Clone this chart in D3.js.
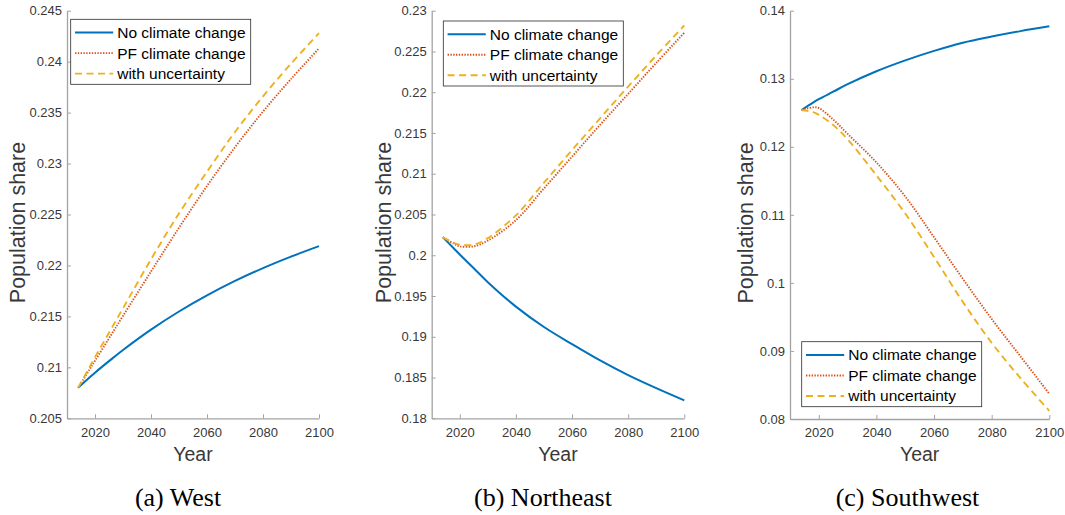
<!DOCTYPE html>
<html>
<head>
<meta charset="utf-8">
<script src="https://cdn.jsdelivr.net/npm/d3@7"></script>
<style>
  html, body { margin: 0; padding: 0; background: #fff; }
  svg { display: block; }
  text { font-family: "Liberation Sans", Arial, Helvetica, sans-serif; }
</style>
</head>
<body>
<svg id="chart" width="1065" height="515"></svg>
<script>
// Years at which each scenario is sampled
const years = [2014, 2018, 2020, 2025, 2030, 2040, 2050, 2060, 2070, 2080, 2090, 2100];

const seriesNames = ["No climate change", "PF climate change", "with uncertainty"];

// West
const westNoChange   = [0.20800, 0.20900, 0.20948, 0.21061, 0.21170, 0.21370, 0.21548, 0.21706, 0.21848, 0.21974, 0.22087, 0.22190];
const westPF         = [0.20800, 0.20977, 0.21065, 0.21285, 0.21505, 0.21940, 0.22370, 0.22780, 0.23160, 0.23510, 0.23830, 0.24130];
const westUncertain  = [0.20800, 0.21000, 0.21100, 0.21340, 0.21580, 0.22060, 0.22510, 0.22920, 0.23310, 0.23660, 0.23980, 0.24280];

// Northeast
const neNoChange     = [0.20220, 0.20080, 0.20010, 0.19840, 0.19670, 0.19370, 0.19120, 0.18910, 0.18710, 0.18530, 0.18370, 0.18220];
const nePF           = [0.20220, 0.20140, 0.20110, 0.20110, 0.20180, 0.20430, 0.20820, 0.21210, 0.21600, 0.21980, 0.22360, 0.22730];
const neUncertain    = [0.20220, 0.20150, 0.20130, 0.20130, 0.20210, 0.20490, 0.20890, 0.21290, 0.21680, 0.22070, 0.22450, 0.22820];

// Southwest
const swNoChange     = [0.12540, 0.12650, 0.12700, 0.12810, 0.12920, 0.13110, 0.13270, 0.13410, 0.13530, 0.13620, 0.13700, 0.13770];
const swPF           = [0.12540, 0.12580, 0.12570, 0.12400, 0.12190, 0.11770, 0.11270, 0.10670, 0.10060, 0.09470, 0.08920, 0.08370];
const swUncertain    = [0.12540, 0.12510, 0.12470, 0.12320, 0.12110, 0.11580, 0.11020, 0.10380, 0.09720, 0.09120, 0.08600, 0.08120];

// Axis ticks and labels
const xTicks = [2020, 2040, 2060, 2080, 2100];
const westTicks = [0.205, 0.21, 0.215, 0.22, 0.225, 0.23, 0.235, 0.24, 0.245];
const westTickLabels = ["0.205", "0.21", "0.215", "0.22", "0.225", "0.23", "0.235", "0.24", "0.245"];
const neTicks = [0.18, 0.185, 0.19, 0.195, 0.2, 0.205, 0.21, 0.215, 0.22, 0.225, 0.23];
const neTickLabels = ["0.18", "0.185", "0.19", "0.195", "0.2", "0.205", "0.21", "0.215", "0.22", "0.225", "0.23"];
const swTicks = [0.08, 0.09, 0.1, 0.11, 0.12, 0.13, 0.14];
const swTickLabels = ["0.08", "0.09", "0.1", "0.11", "0.12", "0.13", "0.14"];

const captions = ["(a) West", "(b) Northeast", "(c) Southwest"];

// Line styling per scenario
const lineColors = ["#0072BD", "#D95319", "#EDB120"];
const lineDash = [null, "1.4,1.4", "7,4.5"];

const panels = [
  { left: 67,    right: 319,    top: 10.7, bottom: 418.3, xDomain: [2010, 2100], yDomain: [0.205, 0.245],
    ticks: westTicks, tickLabels: westTickLabels, data: [westNoChange, westPF, westUncertain],
    caption: captions[0], captionX: 178, yLabelX: 17.5, legend: { x: 70.7, y: 19.3 } },
  { left: 431.7, right: 684.3,  top: 10.7, bottom: 418.3, xDomain: [2010, 2100], yDomain: [0.18, 0.23],
    ticks: neTicks, tickLabels: neTickLabels, data: [neNoChange, nePF, neUncertain],
    caption: captions[1], captionX: 543, yLabelX: 383.5, legend: { x: 443.3, y: 21 } },
  { left: 790,   right: 1049.3, top: 10.7, bottom: 419, xDomain: [2010, 2100], yDomain: [0.08, 0.14],
    ticks: swTicks, tickLabels: swTickLabels, data: [swNoChange, swPF, swUncertain],
    caption: captions[2], captionX: 907.5, yLabelX: 746, legend: { x: 801.7, y: 341.7 } }
];

const svg = d3.select("#chart");
const axisColor = "#a3a3a3";
const textColor = "#383838";

panels.forEach(p => {
  const x = d3.scaleLinear().domain(p.xDomain).range([p.left, p.right]);
  const y = d3.scaleLinear().domain(p.yDomain).range([p.bottom, p.top]);
  const g = svg.append("g");

  // x axis (ticks point inward)
  const xAxis = g.append("g")
    .attr("transform", `translate(0,${p.bottom})`)
    .call(d3.axisBottom(x).tickValues(xTicks).tickFormat(d3.format("d"))
      .tickSizeInner(-4).tickSizeOuter(0).tickPadding(9));
  // y axis
  const yAxis = g.append("g")
    .attr("transform", `translate(${p.left},0)`)
    .call(d3.axisLeft(y).tickValues(p.ticks).tickFormat((d, i) => p.tickLabels[i])
      .tickSizeInner(-4).tickSizeOuter(0).tickPadding(5));

  [xAxis, yAxis].forEach(a => {
    a.select(".domain").attr("stroke", axisColor).attr("stroke-width", 1.3);
    a.selectAll(".tick line").attr("stroke", axisColor).attr("stroke-width", 1);
    a.selectAll(".tick text").attr("fill", textColor).style("font-size", "13px")
      .style("font-family", "'Liberation Sans', Arial, sans-serif");
  });

  // series lines
  const line = d3.line()
    .x((d, i) => x(years[i]))
    .y(d => y(d))
    .curve(d3.curveCatmullRom.alpha(0.5));

  p.data.forEach((vals, k) => {
    g.append("path")
      .datum(vals)
      .attr("d", line)
      .attr("fill", "none")
      .attr("stroke", lineColors[k])
      .attr("stroke-width", k === 0 ? 2 : 1.9)
      .attr("stroke-dasharray", lineDash[k]);
  });

  // axis titles
  g.append("text")
    .attr("x", (p.left + p.right) / 2)
    .attr("y", 460.5)
    .attr("text-anchor", "middle")
    .attr("fill", textColor)
    .style("font-size", "19.5px")
    .text("Year");

  g.append("text")
    .attr("transform", `translate(${p.yLabelX + 7},${(p.top + p.bottom) / 2 + 8}) rotate(-90)`)
    .attr("text-anchor", "middle")
    .attr("fill", textColor)
    .style("font-size", "21.5px")
    .text("Population share");

  // legend
  const lg = g.append("g").attr("transform", `translate(${p.legend.x},${p.legend.y})`);
  lg.append("rect")
    .attr("width", 180).attr("height", 65)
    .attr("fill", "#fff").attr("stroke", "#2b2b2b").attr("stroke-width", 0.8);
  seriesNames.forEach((name, k) => {
    const cy = 13.3 + k * 20.5;
    lg.append("line")
      .attr("x1", 4.3).attr("x2", 42.5)
      .attr("y1", cy).attr("y2", cy)
      .attr("stroke", lineColors[k])
      .attr("stroke-width", k === 0 ? 2 : 1.9)
      .attr("stroke-dasharray", lineDash[k]);
    lg.append("text")
      .attr("x", 46.5).attr("y", cy + 5.5)
      .attr("fill", "#000")
      .style("font-size", "15.5px")
      .text(name);
  });

  // caption
  g.append("text")
    .attr("x", p.captionX)
    .attr("y", 506)
    .attr("text-anchor", "middle")
    .attr("fill", "#000")
    .style("font-size", "26px")
    .style("font-family", "'Liberation Serif', 'Times New Roman', serif")
    .text(p.caption);
});
</script>
</body>
</html>
